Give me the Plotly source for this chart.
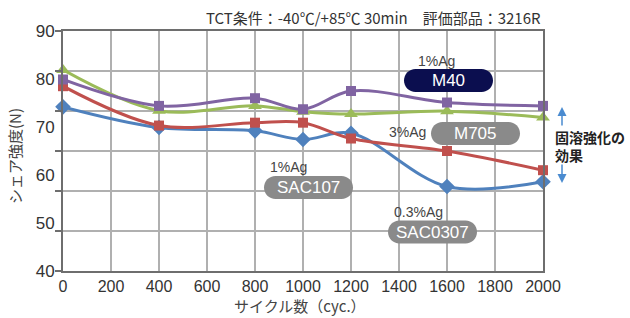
import plotly.graph_objects as go

cycles = [0, 400, 800, 1000, 1200, 1600, 2000]
sac0307 = [74.2, 69.9, 69.2, 67.4, 68.7, 57.6, 58.6]
sac107 = [78.5, 70.3, 70.9, 70.9, 67.6, 65.0, 61.0]
m705 = [81.9, 73.4, 74.4, 73.2, 72.7, 73.3, 72.0]
m40 = [79.9, 74.4, 76.0, 73.7, 77.5, 75.1, 74.4]

y_ticks = [40, 50, 60, 70, 80, 90]
x_ticks = list(range(0, 2001, 200))

# plot area in pixels
L, R, T, B = 63, 543, 31, 271
W, H = 630, 318

def px2x(px):
    return (px - L) * 2000 / (R - L)

def px2y(py):
    return 90 - (py - T) * 50 / (B - T)

def pill(w, h):
    r = h / 2
    k = 0.5523 * r
    a = w / 2 - r
    return (f"M{-a},{-r} L{a},{-r} C{a+k},{-r} {a+r},{-k} {a+r},0 "
            f"C{a+r},{k} {a+k},{r} {a},{r} L{-a},{r} "
            f"C{-a-k},{r} {-a-r},{k} {-a-r},0 C{-a-r},{-k} {-a-k},{-r} {-a},{-r} Z")

fig = go.Figure()
series = [
    ("SAC0307", sac0307, "#4F81BD", "diamond", 12),
    ("SAC107", sac107, "#C0504D", "square", 10),
    ("M705", m705, "#9BBB59", "triangle-up", 12),
    ("M40", m40, "#8064A2", "square", 10),
]
for name, ys, col, sym, ms in series:
    fig.add_trace(go.Scatter(
        x=cycles, y=ys, name=name, mode="lines+markers",
        line=dict(color=col, width=3, shape="spline", smoothing=1.0),
        marker=dict(color=col, symbol=sym, size=ms),
        showlegend=False, cliponaxis=False,
    ))

font_main = "Liberation Sans, Arial, sans-serif"
font_jp = "Noto Sans CJK JP, sans-serif"

shapes = []
annotations = []

badges = [
    ("M40", 448.5, 80.5, "#0B0E4F"),
    ("M705", 475.5, 133.5, "#8A8A8A"),
    ("SAC107", 308.5, 187.5, "#8A8A8A"),
    ("SAC0307", 432.5, 232, "#8A8A8A"),
]
for text, cx, cy, col in badges:
    shapes.append(dict(
        type="path", xref="x", yref="y",
        xsizemode="pixel", ysizemode="pixel",
        xanchor=px2x(cx), yanchor=px2y(cy),
        path=pill(89, 23), fillcolor=col, line=dict(width=0), layer="above",
    ))
    annotations.append(dict(
        x=px2x(cx), y=px2y(cy), xref="x", yref="y", text=text, showarrow=False,
        font=dict(family=font_main, size=17, color="white"),
        xanchor="center", yanchor="middle",
    ))

small = [
    ("1%Ag", 436, 61),
    ("3%Ag", 407, 132),
    ("1%Ag", 288, 167),
    ("0.3%Ag", 418, 212),
]
for text, cx, cy in small:
    annotations.append(dict(
        x=px2x(cx), y=px2y(cy), xref="x", yref="y", text=text, showarrow=False,
        font=dict(family=font_main, size=14, color="#444"),
        xanchor="center", yanchor="middle",
    ))

# title line
annotations.append(dict(
    x=1.0, xref="paper", y=(B - 18) / (B - T), yref="paper",
    text="TCT条件：-40℃/+85℃ 30min　評価部品：3216R", showarrow=False,
    font=dict(family=font_jp, size=15, color="#333"), xanchor="right", yanchor="middle",
))

# axis titles
annotations.append(dict(
    x=(300 - L) / (R - L), xref="paper", y=(B - 305) / (B - T), yref="paper",
    text="サイクル数（cyc.）", showarrow=False,
    font=dict(family=font_jp, size=15, color="#444"), xanchor="center", yanchor="middle",
))
annotations.append(dict(
    x=(14 - L) / (R - L), xref="paper", y=(B - 156) / (B - T), yref="paper",
    text="シェア強度(N)", showarrow=False, textangle=-90,
    font=dict(family=font_jp, size=15, color="#444"), xanchor="center", yanchor="middle",
))

# effect text and arrows
annotations.append(dict(
    x=(553 - L) / (R - L), xref="paper", y=(B - 146) / (B - T), yref="paper",
    text="<b>固溶強化の<br>効果</b>", showarrow=False, align="left",
    font=dict(family=font_jp, size=14, color="#222"), xanchor="left", yanchor="middle",
))
arrow_col = "#4A8BD0"
annotations.append(dict(
    x=(562 - L) / (R - L), xref="paper", y=(B - 107) / (B - T), yref="paper",
    ax=0, ay=20, text="", showarrow=True, arrowhead=2, arrowsize=1.2,
    arrowwidth=1.5, arrowcolor=arrow_col,
))
annotations.append(dict(
    x=(562 - L) / (R - L), xref="paper", y=(B - 183) / (B - T), yref="paper",
    ax=0, ay=-20, text="", showarrow=True, arrowhead=2, arrowsize=1.2,
    arrowwidth=1.5, arrowcolor=arrow_col,
))

fig.update_layout(
    width=W, height=H,
    margin=dict(l=L, r=W - R, t=T, b=H - B, autoexpand=False),
    paper_bgcolor="white", plot_bgcolor="white",
    shapes=shapes, annotations=annotations,
    xaxis=dict(
        range=[0, 2000], tickvals=x_ticks, showgrid=True, gridcolor="#B0B0B0", gridwidth=1.5,
        zeroline=False, showline=True, linecolor="#6E6E6E", linewidth=2, mirror=True,
        tickfont=dict(family=font_main, size=16, color="#333"), ticks="", automargin=False,
    ),
    yaxis=dict(
        range=[40, 90], tickvals=y_ticks, showgrid=False,
        zeroline=False, showline=True, linecolor="#6E6E6E", linewidth=2, mirror=True,
        tickfont=dict(family=font_main, size=17, color="#333"), ticks="", automargin=False,
        ticklabelstandoff=3,
        minor=dict(tick0=40, dtick=50 / 6, showgrid=True, gridcolor="#B0B0B0", gridwidth=1.5,
                   ticks="outside", ticklen=6, tickcolor="#6E6E6E", tickwidth=1.5),
    ),
)

fig.write_html(
    "out.html",
    config={"displayModeBar": False},
    post_script="document.body.style.margin='0';document.body.style.overflow='hidden';",
)
